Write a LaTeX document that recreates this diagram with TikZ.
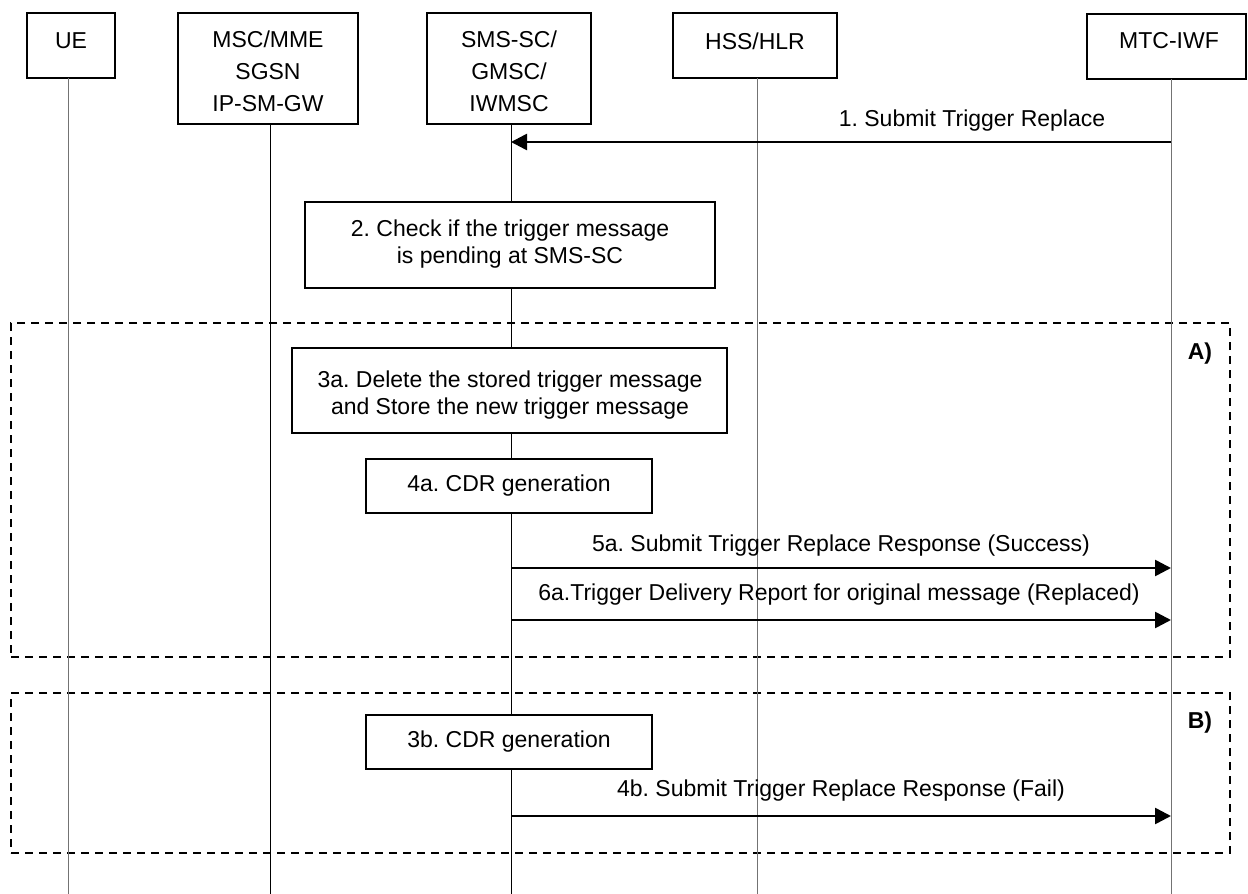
\documentclass[tikz,border=0pt]{standalone}
\usepackage{fontspec}
\setmainfont{Liberation Sans}
\usetikzlibrary{arrows.meta,fit}
\begin{document}
\frenchspacing
\begin{tikzpicture}[x=1pt,y=-1pt,
  every node/.style={font=\fontsize{23}{32}\selectfont, inner sep=0pt},
  hdr/.style={draw=black, line width=1.8pt, fill=white},
  stepbox/.style={draw=black, line width=1.8pt, fill=white},
  txt/.style={align=center},
  boxtxt/.style={align=center, font=\fontsize{23}{27}\selectfont},
  life/.style={line width=1pt, draw=black!55},
  lifek/.style={line width=0.9pt, draw=black},
  msg/.style={line width=2.6pt, -{Triangle[length=16pt,width=16pt]}},
  grp/.style={draw=black, line width=1.8pt, dash pattern=on 8pt off 6pt},
  glabel/.style={font=\fontsize{23}{28}\selectfont\bfseries}
]
\useasboundingbox (0,0) rectangle (1248,894);

% group frames
\node[grp, fit={(11,323) (1230,657)}] (grpA) {};
\node[grp, fit={(11,693) (1230,853)}] (grpB) {};
\node[glabel] (labA) at (1200,354) {A)};
\node[glabel] (labB) at (1200,723) {B)};

% header boxes
\node[hdr, fit={(27,13) (115,78)}] (ue) {};
\node[hdr, fit={(178,13) (358,124)}] (msc) {};
\node[hdr, fit={(427,13) (591,124)}] (sms) {};
\node[hdr, fit={(673,13) (837,78)}] (hss) {};
\node[hdr, fit={(1087,14) (1246,79)}] (mtc) {};
\node[txt] (uet) at (71,41) {UE};
\node[txt] (msct) at (268,71) {MSC/MME\\SGSN\\IP-SM-GW};
\node[txt] (smst) at (509,71) {SMS-SC/\\GMSC/\\IWMSC};
\node[txt] (hsst) at (755,41) {HSS/HLR};
\node[txt] (mtct) at (1169,41) {MTC-IWF};

% lifelines
\coordinate (ueE) at (68,894);
\coordinate (mscE) at (270,894);
\coordinate (smsE) at (511,894);
\coordinate (hssE) at (757,894);
\coordinate (mtcE) at (1171,894);
\draw[life] (68,78) -- (ueE);
\draw[lifek] (270,124) -- (mscE);
\draw[lifek] (511,124) -- (smsE);
\draw[life] (757,78) -- (hssE);
\draw[life] (1171,79) -- (mtcE);

% step boxes
\node[stepbox, fit={(305,202) (715,288)}] (s2) {};
\node[boxtxt] (s2t) at (510,244) {2. Check if the trigger message\\is pending at SMS-SC};
\node[stepbox, fit={(292,348) (727,433)}] (s3a) {};
\node[boxtxt] (s3at) at (510,395) {3a. Delete the stored trigger message\\and Store the new trigger message};
\node[stepbox, fit={(366,459) (652,513)}] (s4a) {};
\node[boxtxt] (s4at) at (509,486) {4a. CDR generation};
\node[stepbox, fit={(366,715) (652,769)}] (s3b) {};
\node[boxtxt] (s3bt) at (509,742) {3b. CDR generation};

% messages
\coordinate (m1s) at (1171,142); \coordinate (m1e) at (511,142);
\draw[msg] (m1s) -- (m1e);
\node (m1t) at (972,121) {1. Submit Trigger Replace};

\coordinate (m5s) at (511,568); \coordinate (m5e) at (1171,568);
\draw[msg] (m5s) -- (m5e);
\node (m5t) at (841,546) {5a. Submit Trigger Replace Response (Success)};

\coordinate (m6s) at (511,620); \coordinate (m6e) at (1171,620);
\draw[msg] (m6s) -- (m6e);
\node (m6t) at (839,595) {6a.Trigger Delivery Report for original message (Replaced)};

\coordinate (m4s) at (511,816); \coordinate (m4e) at (1171,816);
\draw[msg] (m4s) -- (m4e);
\node (m4t) at (841,791) {4b. Submit Trigger Replace Response (Fail)};
\end{tikzpicture}
\end{document}
